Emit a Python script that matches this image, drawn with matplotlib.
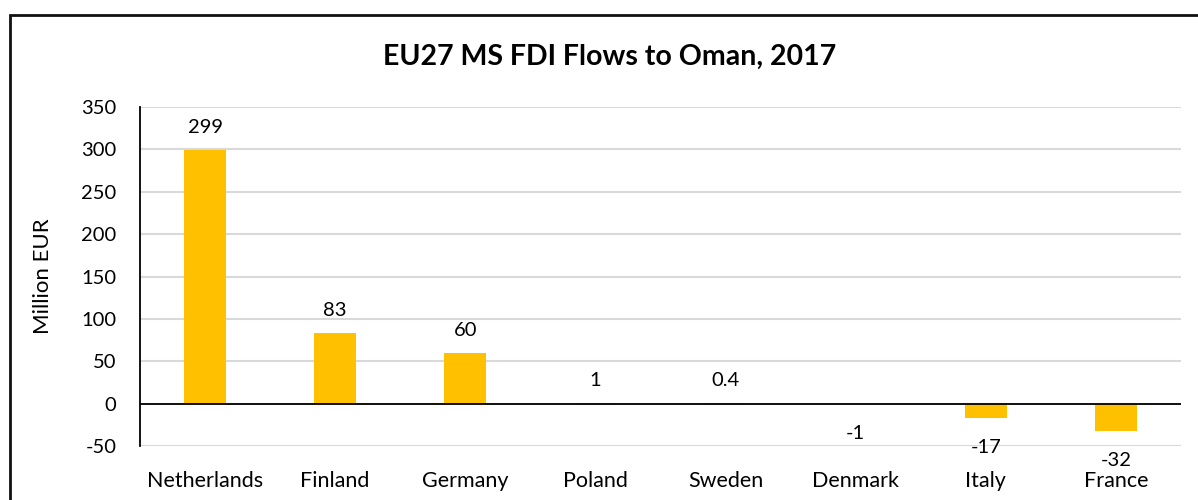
import matplotlib
matplotlib.use("Agg")
import matplotlib.pyplot as plt
from matplotlib.patches import Rectangle

countries = ["Netherlands", "Finland", "Germany", "Poland", "Sweden", "Denmark", "Italy", "France"]
values = [299, 83, 60, 1, 0.4, -1, -17, -32]
labels = ["299", "83", "60", "1", "0.4", "-1", "-17", "-32"]
yticks = [-50, 0, 50, 100, 150, 200, 250, 300, 350]

plt.rcParams['font.family'] = ['Lato', 'DejaVu Sans']

fig = plt.figure(figsize=(11.98, 5.0), dpi=100)
ax = fig.add_axes([140/1198, 1-446/500, (1181-140)/1198, (446-107)/500])

x = list(range(len(countries)))
ax.bar(x, values, width=0.32, color="#FFC000", zorder=3)
ax.set_xlim(-0.5, len(countries)-0.5)
ax.set_ylim(-50, 350)
ax.set_yticks(yticks)
ax.set_yticklabels([str(t) for t in yticks], fontsize=14.5)
ax.set_xticks(x)
ax.set_xticklabels(countries, fontsize=15.5)
ax.tick_params(axis='both', length=0)
ax.tick_params(axis='x', pad=18)
ax.tick_params(axis='y', pad=17)
ax.grid(axis='y', color="#d9d9d9", linewidth=1.5, zorder=0)
ax.axhline(0, color="black", linewidth=1.3, zorder=4)
for s in ["top", "right", "bottom"]:
    ax.spines[s].set_visible(False)
ax.spines["left"].set_color("black")
ax.spines["left"].set_linewidth(1.3)
ax.set_ylabel("Million EUR", fontsize=16, labelpad=20)

for xi, v, lab in zip(x, values, labels):
    if v >= 0:
        ax.annotate(lab, (xi, v), xytext=(0, 10), textcoords="offset points",
                    ha="center", va="bottom", fontsize=14.5)
    else:
        ax.annotate(lab, (xi, v), xytext=(0, -15), textcoords="offset points",
                    ha="center", va="top", fontsize=14.5)

fig.text(610/1198, 1-57/500, "EU27 MS FDI Flows to Oman, 2017", ha="center", va="center",
         fontsize=20.5, fontweight="bold")

fig.patches.append(Rectangle((10/1198, -0.2), 1.5, 1.2 - 15/500, transform=fig.transFigure,
                             fill=False, edgecolor="#111111", linewidth=2))

fig.savefig("out.png", dpi=100)
